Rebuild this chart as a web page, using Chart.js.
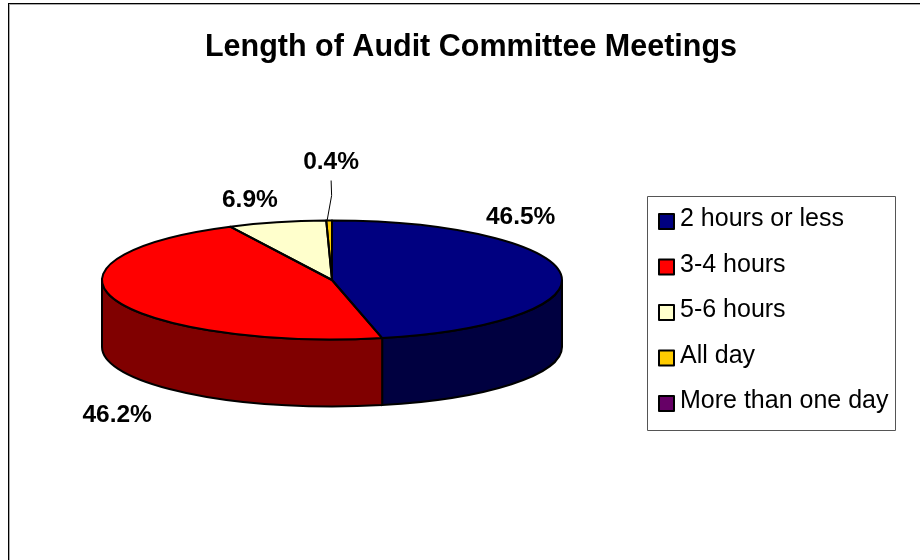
<!DOCTYPE html>
<html>
<head>
<meta charset="utf-8">
<title>Length of Audit Committee Meetings</title>
<script src="https://cdn.jsdelivr.net/npm/chart.js@4"></script>
<style>
  html, body { margin: 0; padding: 0; background: #fff; }
  #wrap { position: relative; width: 920px; height: 560px; overflow: hidden; }
</style>
</head>
<body>
<div id="wrap"><canvas id="chart" width="920" height="560"></canvas></div>
<script>
const titleText = 'Length of Audit Committee Meetings';
const categories = ['2 hours or less', '3-4 hours', '5-6 hours', 'All day', 'More than one day'];
const shares = [46.5, 46.2, 6.9, 0.4, 0];
const topColors = ['#000080', '#FF0000', '#FFFFCC', '#FFCC00', '#660066'];
const wallColors = ['#000040', '#800000', '#808066', '#806600', '#330033'];

// how the flat pie is laid over to look 3D
const tiltCenterX = 332;
const tiltCenterY = 280;
const tiltRatio = 59.5 / 230;
const wallDepth = 67;

// label offset from the rim point in the middle of each slice
const labelOffsets = [[-40, -56], [2, 115], [-27, -22], [2, -58]];

const FONT = '"Liberation Sans", Arial, sans-serif';

const tiltedPie = {
    id: 'tiltedPie',
    beforeDatasetsDraw(chart) {
        const ctx = chart.ctx;
        const arcs = chart.getDatasetMeta(0).data;
        const c = arcs[0];

        // side walls first, only the part of each slice facing the viewer
        arcs.forEach((arc, i) => {
            const a = Math.max(arc.startAngle, 0);
            const b = Math.min(arc.endAngle, Math.PI);
            if (b <= a) return;
            const rx = arc.outerRadius;
            const ry = rx * tiltRatio;
            ctx.save();
            ctx.beginPath();
            ctx.ellipse(tiltCenterX, tiltCenterY, rx, ry, 0, a, b);
            ctx.lineTo(tiltCenterX + rx * Math.cos(b), tiltCenterY + ry * Math.sin(b) + wallDepth);
            ctx.ellipse(tiltCenterX, tiltCenterY + wallDepth, rx, ry, 0, b, a, true);
            ctx.closePath();
            ctx.fillStyle = wallColors[i];
            ctx.fill();
            ctx.lineWidth = 2;
            ctx.strokeStyle = '#000';
            ctx.stroke();
            ctx.restore();
        });

        // squash and move the slices Chart.js is about to draw
        ctx.save();
        ctx.translate(tiltCenterX, tiltCenterY);
        ctx.scale(1, tiltRatio);
        ctx.translate(-c.x, -c.y);
    },
    afterDatasetsDraw(chart) {
        const ctx = chart.ctx;
        const arcs = chart.getDatasetMeta(0).data;
        const c = arcs[0];

        // outlines: path made in squashed space, stroked in normal space
        const paths = [];
        arcs.forEach(arc => {
            if (arc.endAngle - arc.startAngle <= 0) return;
            const p = new Path2D();
            p.moveTo(c.x, c.y);
            p.arc(c.x, c.y, arc.outerRadius, arc.startAngle, arc.endAngle);
            p.closePath();
            paths.push(p);
        });
        const m = ctx.getTransform();
        ctx.restore();
        ctx.lineWidth = 2;
        ctx.strokeStyle = '#000';
        ctx.lineJoin = 'round';
        paths.forEach(p => {
            const flat = new Path2D();
            flat.addPath(p, m);
            ctx.stroke(flat);
        });

        // percentage labels + leader line of the thin slice
        ctx.fillStyle = '#000';
        ctx.font = 'bold 24.5px ' + FONT;
        ctx.textAlign = 'center';
        ctx.textBaseline = 'middle';
        arcs.forEach((arc, i) => {
            if (!shares[i]) return;
            const mid = (arc.startAngle + arc.endAngle) / 2;
            const rimX = tiltCenterX + arc.outerRadius * Math.cos(mid);
            const rimY = tiltCenterY + arc.outerRadius * tiltRatio * Math.sin(mid);
            const off = labelOffsets[i];
            ctx.fillText(shares[i].toFixed(1) + '%', rimX + off[0], rimY + off[1]);
            if (i === 3) {
                ctx.beginPath();
                ctx.lineWidth = 1;
                ctx.moveTo(rimX - 2, rimY);
                ctx.lineTo(rimX + off[0] + 0.5, rimY - 25);
                ctx.lineTo(rimX + off[0], rimY - 40);
                ctx.stroke();
            }
        });
    },
    afterDraw(chart) {
        const ctx = chart.ctx;

        // outer frame, its right and bottom edges are cut off in the original
        ctx.fillStyle = '#000';
        ctx.fillRect(8, 3, 912, 1);
        ctx.fillRect(8, 3, 1, 557);
        ctx.fillStyle = '#aaa';
        ctx.fillRect(9, 4, 911, 1);
        ctx.fillRect(9, 4, 1, 556);

        // legend box
        ctx.strokeStyle = '#555';
        ctx.lineWidth = 1;
        ctx.strokeRect(647.5, 196.5, 248, 234);
        ctx.font = '25px ' + FONT;
        ctx.textAlign = 'left';
        ctx.textBaseline = 'middle';
        categories.forEach((name, i) => {
            const y = 221.5 + i * 45.5;
            ctx.fillStyle = topColors[i];
            ctx.fillRect(659, y - 7.5, 15, 15);
            ctx.strokeStyle = '#000';
            ctx.lineWidth = 2;
            ctx.strokeRect(659, y - 7.5, 15, 15);
            ctx.fillStyle = '#000';
            ctx.fillText(name, 680, y - 2);
        });
    }
};

new Chart(document.getElementById('chart'), {
    type: 'pie',
    data: {
        labels: categories,
        datasets: [{
            data: shares,
            backgroundColor: topColors,
            borderWidth: 0,
            radius: 230
        }]
    },
    options: {
        responsive: false,
        animation: false,
        layout: { padding: { left: 22, right: 0, top: 0, bottom: 0 } },
        plugins: {
            legend: { display: false },
            tooltip: { enabled: false },
            title: {
                display: true,
                text: titleText,
                color: '#000',
                font: { family: FONT, size: 30.5, weight: 'bold' },
                padding: { top: 29, bottom: 20 }
            }
        }
    },
    plugins: [tiltedPie]
});
</script>
</body>
</html>
